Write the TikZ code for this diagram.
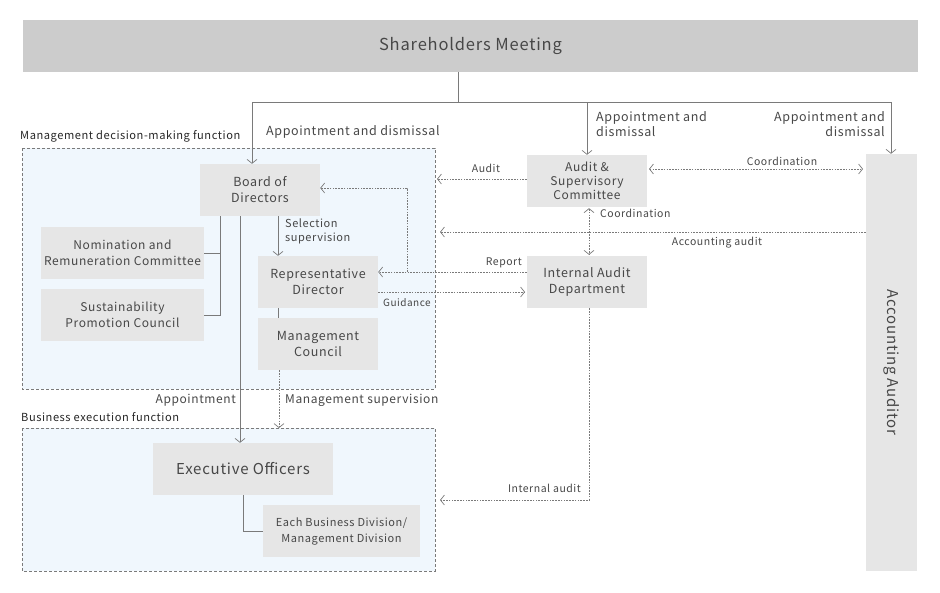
\documentclass[tikz,border=0pt]{standalone}
\usepackage{fontspec}
\setmainfont{Noto Sans CJK JP}[LetterSpace=5]
\usetikzlibrary{arrows.meta,calc}
\definecolor{boxgray}{HTML}{E6E6E6}
\definecolor{shgray}{HTML}{CCCCCC}
\definecolor{linegray}{HTML}{7A7A7A}
\definecolor{txtgray}{HTML}{474747}
\definecolor{regblue}{HTML}{F0F7FD}
\tikzset{
  box/.style={fill=boxgray, draw=none, inner sep=0pt, align=center, text=txtgray, font=\fontsize{12.5}{16}\selectfont},
  region/.style={fill=regblue, draw=linegray, dash pattern=on 3pt off 2pt, line width=0.6pt},
  conn/.style={draw=linegray, line width=0.8pt},
  dotc/.style={draw=linegray, line width=0.7pt, dash pattern=on 1.6pt off 1.2pt},
  arr/.style={-{Straight Barb[length=4pt,width=10pt,line width=0.7pt]}},
  darr/.style={{Straight Barb[length=4pt,width=10pt,line width=0.7pt]}-{Straight Barb[length=4pt,width=10pt,line width=0.7pt]}},
  lbl/.style={inner sep=0pt, text=txtgray, font=\fontsize{11.5}{14}\selectfont},
  slbl/.style={inner sep=0pt, text=txtgray, font=\fontsize{10.5}{13}\selectfont},
  reglbl/.style={inner sep=0pt, anchor=west, text=black!85, font=\fontsize{11.1}{13}\selectfont},
}
\begin{document}
\begin{tikzpicture}[x=1pt,y=-1pt]
\useasboundingbox (0,0) rectangle (940,592);
% regions
\path[region] (22,148) rectangle (435,389);
\path[region] (22,428) rectangle (435,571);
\node[reglbl] (lmgmt) at (20,136) {Management decision-making function};
\node[reglbl] (lbiz) at (21,417) {Business execution function};
% boxes
\node[box, fill=shgray, minimum width=895pt, minimum height=52pt, font=\fontsize{16.5}{20}\selectfont] (sh) at (470.5,46) {Shareholders Meeting};
\node[box, minimum width=120pt, minimum height=52pt] (bod) at (260,190) {Board of\\Directors};
\node[box, minimum width=163pt, minimum height=52pt, font=\fontsize{12}{16}\selectfont] (nom) at (122.5,253) {Nomination and\\Remuneration Committee};
\node[box, minimum width=163pt, minimum height=52pt, font=\fontsize{12}{16}\selectfont] (sus) at (122.5,315) {Sustainability\\Promotion Council};
\node[box, minimum width=120pt, minimum height=52pt] (rep) at (318,282) {Representative\\Director};
\node[box, minimum width=120pt, minimum height=52pt] (mc) at (318,344) {Management\\Council};
\node[box, minimum width=120pt, minimum height=52pt, font=\fontsize{12}{14}\selectfont] (asc) at (587,181) {Audit \&\\Supervisory\\Committee};
\node[box, minimum width=120pt, minimum height=52pt] (iad) at (587,282) {Internal Audit\\Department};
\node[box, minimum width=51pt, minimum height=417pt] (aa) at (891.5,362.5) {};
\node[inner sep=0pt, text=txtgray, font=\fontsize{15}{18}\selectfont, rotate=-90] (aat) at (aa.center) {Accounting Auditor};
\node[box, minimum width=180pt, minimum height=52pt, font=\fontsize{15}{18}\selectfont] (eo) at (243,469) {Executive Officers};
\node[box, minimum width=157pt, minimum height=52pt, font=\fontsize{11}{16}\selectfont] (ebd) at (341.5,531) {Each Business Division/\\Management Division};
% shareholders connectors
\coordinate (jm) at (458,102);
\coordinate (jl) at (252,102);
\coordinate (jr) at (891,102);
\draw[conn] (jm |- sh.south) -- (jm);
\draw[conn] (jl) -- (jr);
\draw[conn, arr] (jl) -- (jl |- bod.north);
\draw[conn, arr] (asc.north |- jl) -- (asc.north);
\draw[conn, arr] (jr) -- (jr |- aa.north);
\node[lbl, anchor=west, font=\fontsize{12.5}{15}\selectfont] (l1) at (266,132) {Appointment and dismissal};
\node[lbl, anchor=north west, align=left, font=\fontsize{12.5}{15}\selectfont] (l2) at (596,111) {Appointment and\\dismissal};
\node[lbl, anchor=north east, align=right, font=\fontsize{12.5}{15}\selectfont] (l3) at (885,111) {Appointment and\\dismissal};
% bracket
\coordinate (bk) at (220,315);
\draw[conn] (bk |- bod.south) -- (bk) -- (sus.east |- bk);
\draw[conn] (nom.east) -- (nom.east -| bk);
% appointment to EO
\draw[conn, arr] ($(bod.south)+(-20,0)$) -- ($(eo.north)+(-3,0)$);
\node[lbl, anchor=east, font=\fontsize{12}{14}\selectfont] (lap) at (236,400) {Appointment};
% selection supervision
\draw[conn, arr] ($(bod.south)+(18,0)$) -- ($(rep.north)+(-40,0)$);
\node[slbl, anchor=north west, align=left, font=\fontsize{11}{14}\selectfont] (lsel) at (285,219) {Selection\\supervision};
\draw[conn] ($(rep.south)+(-40,0)$) -- ($(mc.north)+(-40,0)$);
% management supervision
\coordinate (ms) at (279,428);
\draw[dotc, arr] (ms |- mc.south) -- (ms);
\node[lbl, anchor=west, font=\fontsize{12}{14}\selectfont] (lms) at (285,400) {Management supervision};
% EO to EBD
\draw[conn] (eo.south) -- (eo.south |- ebd.west) -- (ebd.west);
% audit
\coordinate (au) at (437,179);
\draw[dotc, arr] (asc.west |- au) -- (au);
\node[slbl, anchor=center] (laud) at (486,168) {Audit};
% coordination horizontal
\coordinate (c1) at (649,169);
\coordinate (c2) at (863,169);
\draw[dotc, darr] (c1) -- (c2);
\node[slbl] (lc1) at (782,161) {Coordination};
% coordination vertical
\draw[dotc, darr] ($(asc.south)+(2,1)$) -- ($(iad.north)+(2,-1)$);
\node[slbl, anchor=west] (lc2) at (600,213) {Coordination};
% accounting audit
\coordinate (aca) at (440,232);
\draw[dotc, arr] (aa.west |- aca) -- (aca);
\node[slbl] (laca) at (717,243) {Accounting audit};
% report
\coordinate (rp) at (407,272);
\draw[dotc, arr] (iad.west |- rp) -- (rep.east |- rp);
\coordinate (rpt) at (407,188);
\draw[dotc, arr] (rp) -- (rpt) -- (bod.east |- rpt);
\node[slbl, anchor=east] (lrep) at (522,263) {Report};
% guidance
\coordinate (gd) at (525,292);
\draw[dotc, arr] (rep.east |- gd) -- (gd);
\node[slbl, anchor=west, font=\fontsize{10}{12}\selectfont] (lgd) at (383,303) {Guidance};
% internal audit
\coordinate (ia1) at (589,500);
\coordinate (ia2) at (440,500);
\draw[dotc, arr] (ia1 |- iad.south) -- (ia1) -- (ia2);
\node[slbl, anchor=east] (lia) at (581,488) {Internal audit};
\end{tikzpicture}
\end{document}
